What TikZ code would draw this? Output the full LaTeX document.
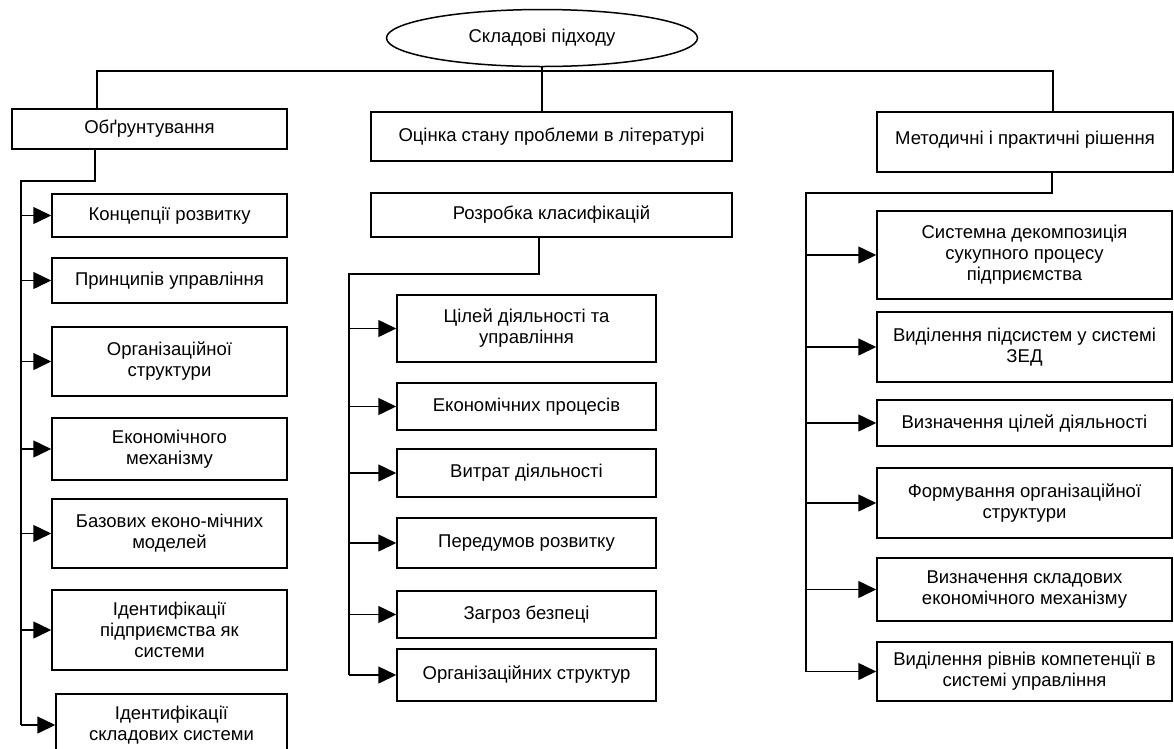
\documentclass[tikz,border=0pt]{standalone}
\usepackage{fontspec}
\setmainfont{Liberation Sans}
\usetikzlibrary{shapes.geometric,arrows.meta}

\begin{document}
\begin{tikzpicture}[x=1pt,y=-1pt,line width=1.5pt,
    box/.style={draw,rectangle,align=center,inner sep=2pt,font=\fontsize{18.5}{21}\selectfont},
    arr/.style={-{Triangle[length=18pt,width=17pt]}}]
      \useasboundingbox (0,0) rectangle (1174,748);
      \clip (0,0) rectangle (1174,748);

      \node[draw,ellipse,minimum width=311pt,minimum height=57pt,inner sep=0pt,
            font=\fontsize{18.5}{21}\selectfont] (root) at (542,38) {Складові підходу};

      % top level
      \node[box,minimum width=275pt,minimum height=40pt] (obgr) at (149.5,129) {Обґрунтування};
      \node[box,minimum width=361pt,minimum height=49pt] (otsinka) at (551.5,136.5) {Оцінка стану проблеми в літературі};
      \node[box,minimum width=296pt,minimum height=60pt,text depth=9pt] (metod) at (1025,142) {Методичні і практичні рішення};
      \node[box,minimum width=361pt,minimum height=44pt] (rozr) at (551.5,215) {Розробка класифікацій};

      \coordinate (busl) at (97,71);
      \coordinate (busr) at (1053,71);
      \draw (busl |- obgr.north) -- (busl) -- (busr) -- (busr |- metod.north);
      \draw (root.south) -- (root.south |- otsinka.north);

      % left column
      \node[box,minimum width=235pt,minimum height=43pt] (l1) at (169.5,215.5) {Концепції розвитку};
      \node[box,minimum width=235pt,minimum height=45pt] (l2) at (169.5,280.5) {Принципів управління};
      \node[box,minimum width=235pt,minimum height=69pt] (l3) at (169.5,361.5) {Організаційної\\структури};
      \node[box,minimum width=235pt,minimum height=62pt] (l4) at (169.5,449) {Економічного\\механізму};
      \node[box,minimum width=235pt,minimum height=69pt] (l5) at (169.5,533.5) {Базових еконо-мічних\\моделей};
      \node[box,minimum width=235pt,minimum height=80pt] (l6) at (169.5,630) {Ідентифікації\\підприємства як\\системи};
      \node[box,minimum width=231pt,minimum height=62pt] (l7) at (171.5,725) {Ідентифікації\\складових системи};

      \coordinate (ltop) at (95,181);
      \coordinate (lx) at (21,181);
      \draw (ltop |- obgr.south) -- (ltop) -- (lx) -- (lx |- l7.west);
      \foreach \n in {l1,l2,l3,l4,l5,l6,l7}
        \draw[arr] (lx |- \n.west) -- (\n.west);

      % middle column
      \node[box,minimum width=259pt,minimum height=67pt] (m1) at (526.5,328.5) {Цілей діяльності та\\управління};
      \node[box,minimum width=259pt,minimum height=47pt] (m2) at (526.5,406.5) {Економічних процесів};
      \node[box,minimum width=259pt,minimum height=48pt] (m3) at (526.5,473) {Витрат діяльності};
      \node[box,minimum width=259pt,minimum height=50pt] (m4) at (526.5,543) {Передумов розвитку};
      \node[box,minimum width=259pt,minimum height=47pt] (m5) at (526.5,614.5) {Загроз безпеці};
      \node[box,minimum width=259pt,minimum height=52pt] (m6) at (526.5,675) {Організаційних структур};

      \coordinate (mtop) at (539,274);
      \coordinate (mx) at (349,274);
      \draw (mtop |- rozr.south) -- (mtop) -- (mx) -- (mx |- m6.west);
      \foreach \n in {m1,m2,m3,m4,m5,m6}
        \draw[arr] (mx |- \n.west) -- (\n.west);

      % right column
      \node[box,minimum width=295pt,minimum height=88pt] (r1) at (1024.5,255) {Системна декомпозиція\\сукупного процесу\\підприємства};
      \node[box,minimum width=295pt,minimum height=70pt] (r2) at (1024.5,347) {Виділення підсистем у системі\\ЗЕД};
      \node[box,minimum width=295pt,minimum height=46pt] (r3) at (1024.5,423) {Визначення цілей діяльності};
      \node[box,minimum width=295pt,minimum height=70pt] (r4) at (1024.5,503) {Формування організаційної\\структури};
      \node[box,minimum width=295pt,minimum height=63pt] (r5) at (1024.5,589.5) {Визначення складових\\економічного механізму};
      \node[box,minimum width=295pt,minimum height=59pt] (r6) at (1024.5,671.5) {Виділення рівнів компетенції в\\системі управління};

      \coordinate (rtop) at (1052,193);
      \coordinate (rx) at (806,193);
      \draw (rtop |- metod.south) -- (rtop) -- (rx) -- (rx |- r6.west);
      \foreach \n in {r1,r2,r3,r4,r5,r6}
        \draw[arr] (rx |- \n.west) -- (\n.west);
   \end{tikzpicture}
\end{document}
